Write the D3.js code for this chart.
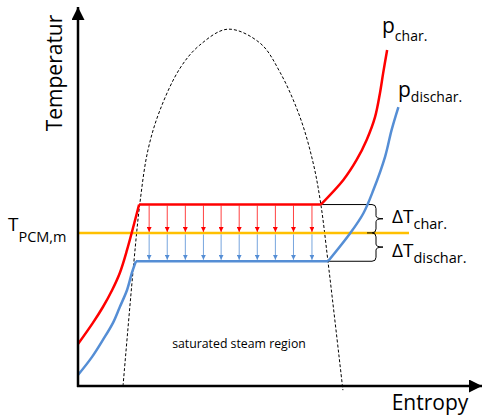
<!DOCTYPE html>
<html>
<head>
<meta charset="utf-8">
<script src="https://cdn.jsdelivr.net/npm/d3@7"></script>
<style>
  html, body { margin: 0; padding: 0; background: #fff; }
  svg { display: block; }
  text { font-family: "Open Sans", "DejaVu Sans", sans-serif; fill: #000; }
</style>
</head>
<body>
<script>
// Entropy (s) and temperature (T) in arbitrary units, 0..100 on both axes.

// Isobar at charging pressure: subcooled liquid, evaporation plateau, superheated vapour
const chargeLiquid = [[0, 11.1], [3.7, 16.7], [6.2, 20.9], [8.5, 25.4], [10.4, 29.9], [12.2, 36.0], [15.2, 48]];
const chargeVapour = [[60.4, 48], [66.0, 54.5], [69.3, 59.8], [71.8, 65.1], [73.9, 71.2], [75.1, 77.4], [75.9, 82.7], [76.9, 88.9]];

// Isobar at discharging pressure
const dischargeLiquid = [[0, 2.9], [3.5, 7.7], [6.2, 12.2], [8.7, 16.7], [10.4, 20.9], [12.2, 25.4], [13.4, 29.9], [14.4, 33]];
const dischargeVapour = [[62.2, 33], [67.7, 40.4], [71.0, 45.7], [73.5, 51.9], [76.4, 60.7], [78.0, 67.7], [79.7, 73.8]];

// Saturation dome (bubble line on the left, dew line on the right)
const saturationDome = [[11.2, 0], [13.9, 32.8], [15.4, 48.4], [17.4, 62.4], [20.4, 73.0], [25.4, 84.1], [30.3, 90.2],
  [37.3, 94.4], [45.3, 90.7], [50.2, 83.1], [55.2, 71.2], [58.5, 59.0], [60.4, 48.1], [62.2, 32.8], [65.9, -1.1]];

// Temperature levels
const tCharge = 48;      // condensation temperature while charging
const tDischarge = 33;   // evaporation temperature while discharging
const tPCM = 40.5;       // PCM melting temperature

// Heat flow arrows along the plateau
const heatFlowS = [17.7, 22.2, 26.7, 31.2, 35.6, 40.1, 44.6, 49.1, 53.6, 58.2];

const W = 482, H = 416;
const RED = "#FF0000", BLUE = "#558ED5", GOLD = "#FFC000";

const x = d3.scaleLinear().domain([0, 100]).range([78, 480]);
const y = d3.scaleLinear().domain([0, 100]).range([386, 8]);

const svg = d3.select("body").append("svg").attr("width", W).attr("height", H);

const defs = svg.append("defs");
function marker(id, color, size) {
  defs.append("marker").attr("id", id)
    .attr("viewBox", "0 0 10 10").attr("refX", 10).attr("refY", 5)
    .attr("markerWidth", size).attr("markerHeight", size)
    .attr("markerUnits", "userSpaceOnUse").attr("orient", "auto")
    .append("path").attr("d", "M0,0 L10,5 L0,10 Z").attr("fill", color);
}
marker("axisHead", "#000", 13);
marker("redHead", RED, 5);
marker("blueHead", BLUE, 5);

const line = d3.line().x(d => x(d[0])).y(d => y(d[1])).curve(d3.curveCatmullRom.alpha(0.5));

// saturation dome
svg.append("path").attr("d", line(saturationDome))
  .attr("fill", "none").attr("stroke", "#000").attr("stroke-width", 1)
  .attr("stroke-dasharray", "3,2");

// PCM melting temperature
svg.append("line")
  .attr("x1", x(0)).attr("x2", 409).attr("y1", y(tPCM)).attr("y2", y(tPCM))
  .attr("stroke", GOLD).attr("stroke-width", 2.5);

// heat flow arrows
const flows = svg.append("g");
flows.selectAll(".r").data(heatFlowS).join("line")
  .attr("x1", d => x(d)).attr("x2", d => x(d))
  .attr("y1", y(tCharge) + 1).attr("y2", y(tPCM) - 1)
  .attr("stroke", RED).attr("stroke-opacity", 0.75).attr("stroke-width", 1)
  .attr("marker-end", "url(#redHead)");
flows.selectAll(".b").data(heatFlowS).join("line")
  .attr("x1", d => x(d)).attr("x2", d => x(d))
  .attr("y1", y(tPCM) + 1.5).attr("y2", y(tDischarge) - 1.5)
  .attr("stroke", BLUE).attr("stroke-opacity", 0.8).attr("stroke-width", 1)
  .attr("marker-end", "url(#blueHead)");

// brackets for the temperature differences
const braceX = 376, braceW = 7;
function brace(y0, y1) {
  const q = 4, ym = (y0 + y1) / 2;
  return `M${braceX - q},${y0} Q${braceX},${y0} ${braceX},${y0 + q} L${braceX},${ym - 3}` +
    ` Q${braceX},${ym} ${braceX + braceW},${ym} Q${braceX},${ym} ${braceX},${ym + 3}` +
    ` L${braceX},${y1 - q} Q${braceX},${y1} ${braceX - q},${y1}`;
}
const br = svg.append("g").attr("fill", "none").attr("stroke", "#000").attr("stroke-width", 1);
br.append("line").attr("x1", x(chargeVapour[0][0])).attr("x2", braceX - 4)
  .attr("y1", y(tCharge)).attr("y2", y(tCharge));
br.append("line").attr("x1", x(dischargeVapour[0][0])).attr("x2", braceX - 4)
  .attr("y1", y(tDischarge)).attr("y2", y(tDischarge));
br.append("path").attr("d", brace(y(tCharge), y(tPCM)));
br.append("path").attr("d", brace(y(tPCM), y(tDischarge)));
br.append("line").attr("x1", braceX - 9).attr("x2", braceX - 4)
  .attr("y1", y(tPCM)).attr("y2", y(tPCM));

// isobars
const lin = d3.line().x(d => x(d[0])).y(d => y(d[1]));
function isobar(liquid, vapour, color) {
  const g = svg.append("g").attr("fill", "none").attr("stroke", color)
    .attr("stroke-width", 2.5).attr("stroke-linejoin", "round");
  g.append("path").attr("d", line(liquid));
  g.append("path").attr("d", lin([liquid[liquid.length - 1], vapour[0]]));
  g.append("path").attr("d", line(vapour));
}
isobar(chargeLiquid, chargeVapour, RED);
isobar(dischargeLiquid, dischargeVapour, BLUE);

// axes
svg.append("line").attr("x1", x(0)).attr("y1", y(0) + 1).attr("x2", x(0)).attr("y2", 7)
  .attr("stroke", "#000").attr("stroke-width", 2.5).attr("marker-end", "url(#axisHead)");
svg.append("line").attr("x1", x(0) - 1).attr("y1", y(0)).attr("x2", 482).attr("y2", y(0))
  .attr("stroke", "#000").attr("stroke-width", 2.5).attr("marker-end", "url(#axisHead)");

// labels
svg.append("text").attr("transform", "translate(62,73) rotate(-90)")
  .attr("text-anchor", "middle").attr("font-size", 21).text("Temperatur");
svg.append("text").attr("x", 430).attr("y", 410).attr("text-anchor", "middle")
  .attr("font-size", 21).text("Entropy");
svg.append("text").attr("x", 239).attr("y", 348).attr("text-anchor", "middle")
  .attr("font-size", 12.3).text("saturated steam region");

function sub(xp, yp, main, subText, size, subSize, dy) {
  const t = svg.append("text").attr("x", xp).attr("y", yp).attr("font-size", size);
  t.append("tspan").text(main);
  t.append("tspan").attr("font-size", subSize).attr("dy", dy).text(subText);
}
sub(382, 33, "p", "char.", 21, 14, 8);
sub(398, 97, "p", "dischar.", 21, 14, 5);
sub(392, 223, "ΔT", "char.", 19, 14.5, 6);
sub(392, 257, "ΔT", "dischar.", 19, 14.5, 6);
sub(8, 231, "T", "PCM,m", 19, 14.5, 11);
</script>
</body>
</html>
